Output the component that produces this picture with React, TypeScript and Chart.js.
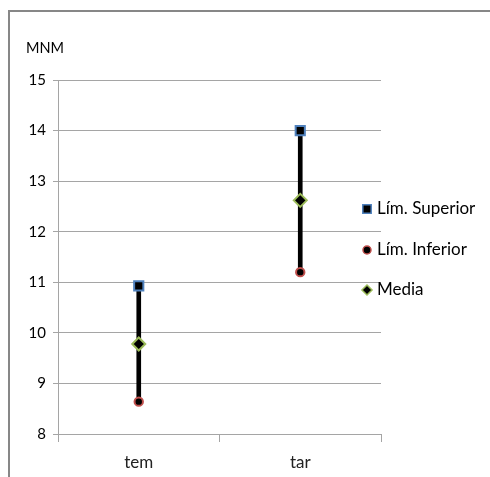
import React, { useEffect, useRef } from "react";
import { Chart, registerables } from "chart.js";

Chart.register(...registerables);

const categories = ["tem", "tar"];
const upperLimit = [10.93, 14.0];
const lowerLimit = [8.64, 11.2];
const mean = [9.78, 12.62];
const yTicks = [8, 9, 10, 11, 12, 13, 14, 15];
const seriesNames = ["Lím. Superior", "Lím. Inferior", "Media"];
const axisTitle = "MNM";

const FONT = "Lato, 'Open Sans', sans-serif";
const GRID = "#a5a5a5";

const markerStyles = [
  { shape: "rect", border: "#4F81BD" },
  { shape: "circle", border: "#C0504D" },
  { shape: "rectRot", border: "#9BBB59" },
];

function drawMarker(ctx: CanvasRenderingContext2D, shape: string, x: number, y: number, s: number, border: string) {
  ctx.save();
  ctx.fillStyle = "#000";
  ctx.strokeStyle = border;
  ctx.lineWidth = 1.5;
  ctx.beginPath();
  if (shape === "rect") {
    ctx.rect(x - s, y - s, 2 * s, 2 * s);
  } else if (shape === "circle") {
    ctx.arc(x, y, s, 0, Math.PI * 2);
  } else {
    ctx.moveTo(x - s * 1.2, y);
    ctx.lineTo(x, y - s * 1.2);
    ctx.lineTo(x + s * 1.2, y);
    ctx.lineTo(x, y + s * 1.2);
    ctx.closePath();
  }
  ctx.fill();
  ctx.stroke();
  ctx.restore();
}

const framePlugin = {
  id: "frame",
  beforeDraw(chart: any) {
    const ctx = chart.ctx as CanvasRenderingContext2D;
    ctx.save();
    ctx.fillStyle = "#fff";
    ctx.fillRect(0, 0, chart.width, chart.height);
    ctx.fillStyle = "#878787";
    ctx.fillRect(8, 10, chart.width - 8, 2);
    ctx.fillRect(8, 10, 2, chart.height - 10);
    ctx.restore();
  },
  afterDraw(chart: any) {
    const ctx = chart.ctx as CanvasRenderingContext2D;
    ctx.save();
    // axis title above the value axis
    ctx.fillStyle = "#000";
    ctx.font = `14.5px ${FONT}`;
    ctx.textBaseline = "middle";
    ctx.textAlign = "left";
    ctx.fillText(axisTitle, 26, 48);

    // legend on the right
    const rows = [209, 250, 290];
    ctx.font = `17px ${FONT}`;
    seriesNames.forEach((name, i) => {
      const m = markerStyles[i];
      const size = m.shape === "circle" ? 4 : 4.2;
      drawMarker(ctx, m.shape, 367, rows[i], size, m.border);
      ctx.fillStyle = "#000";
      ctx.fillText(name, 377, rows[i]);
    });
    ctx.restore();
  },
};

export default function App() {
  const ref = useRef<HTMLCanvasElement | null>(null);

  useEffect(() => {
    if (!ref.current) return;
    const pointDs = (label: string, data: number[], idx: number, radius: number) => ({
      type: "line" as const,
      label,
      data,
      showLine: false,
      pointStyle: markerStyles[idx].shape,
      pointRadius: radius,
      pointHoverRadius: radius,
      pointBackgroundColor: "#000",
      pointBorderColor: markerStyles[idx].border,
      pointBorderWidth: 2,
      order: 0,
    });

    const chart = new Chart(ref.current, {
      type: "line",
      data: {
        labels: categories,
        datasets: [
          {
            type: "bar",
            label: "range",
            data: categories.map((_, i) => [lowerLimit[i], upperLimit[i]]),
            backgroundColor: "#000",
            barThickness: 4,
            order: 10,
          } as any,
          pointDs(seriesNames[0], upperLimit, 0, 6.5),
          pointDs(seriesNames[1], lowerLimit, 1, 4.2),
          pointDs(seriesNames[2], mean, 2, 6.5),
        ],
      },
      options: {
        responsive: false,
        animation: false,
        layout: { padding: { left: 0, top: 80, right: 109, bottom: 0 } },
        plugins: {
          legend: { display: false },
          tooltip: { enabled: false },
          title: { display: false },
        },
        scales: {
          x: {
            type: "category",
            offset: true,
            grid: {
              offset: true,
              drawOnChartArea: false,
              drawTicks: true,
              tickLength: 8,
              color: GRID,
            },
            border: { display: true, color: GRID, width: 1 },
            ticks: {
              color: "#222",
              font: { family: FONT, size: 17 },
              padding: 10,
            },
            afterFit: (s: any) => {
              s.height = 43;
            },
          },
          y: {
            min: 8,
            max: 15,
            afterBuildTicks: (s: any) => {
              s.ticks = yTicks.map((v) => ({ value: v }));
            },
            grid: { color: GRID, tickLength: 5, drawTicks: true },
            border: { display: true, color: GRID, width: 1 },
            ticks: {
              color: "#000",
              font: { family: FONT, size: 15 },
              padding: 7,
            },
            afterFit: (s: any) => {
              s.width = 58;
            },
          },
        },
      },
      plugins: [framePlugin],
    });
    return () => chart.destroy();
  }, []);

  return (
    <div style={{ position: "absolute", left: 0, top: 0, width: 490, height: 477 }}>
      <canvas ref={ref} width={490} height={477} style={{ display: "block" }} />
    </div>
  );
}
